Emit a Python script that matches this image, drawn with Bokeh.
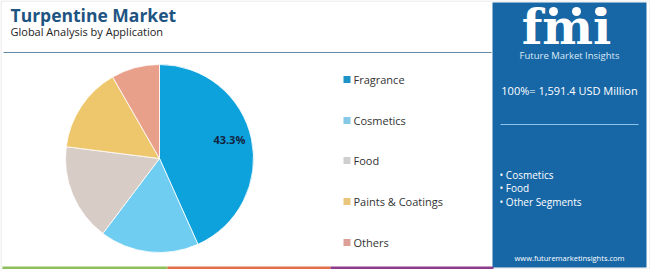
import math
from bokeh.plotting import figure
from bokeh.models import Range1d, ColumnDataSource
from bokeh.core.properties import value
from bokeh.embed import file_html
from bokeh.resources import INLINE

# ---- data ----
categories = ["Fragrance", "Cosmetics", "Food", "Paints & Coatings", "Others"]
shares = [43.3, 17.0, 16.7, 14.7, 8.3]
colors = ["#0EA2DD", "#6ECDF1", "#D8CCC7", "#EEC66C", "#E9A08B"]
legend_colors = ["#1D93C8", "#86C9E6", "#CFCFCF", "#E9C67C", "#DDA096"]
title_text = "Turpentine Market"
subtitle_text = "Global Analysis by Application"
total_text = "100%= 1,591.4 USD Million"
segments = ["Cosmetics", "Food", "Other Segments"]
url_text = "www.futuremarketinsights.com"

W, H = 650, 269
def Y(sy):
    return H - sy

p = figure(width=W, height=H, x_range=Range1d(0, W), y_range=Range1d(0, H),
           output_backend="svg", toolbar_location=None, min_border=0)
p.axis.visible = False
p.grid.visible = False
p.outline_line_color = None
p.background_fill_color = "white"

# outer faint border
p.quad(left=[0.5], right=[W - 0.5], bottom=[0.5], top=[H - 0.5],
       fill_color=None, line_color="#E3E3E3", line_width=1)

# title
p.text(x=[10], y=[Y(14)], text=[title_text], text_font=value("Open Sans"),
       text_font_style="bold", text_font_size="17.5px", text_color="#1E5482",
       text_baseline="middle", text_align="left")
p.text(x=[10], y=[Y(31)], text=[subtitle_text], text_font=value("Open Sans"),
       text_font_size="11px", text_color="#222222",
       text_baseline="middle", text_align="left")
p.line(x=[3, 491], y=[Y(52), Y(52)], line_color="#5F8BA8", line_width=1.2)

# pie
cx, cy, R = 159, Y(158), 94
tot = sum(shares)
cum = 0.0
starts, ends, mids = [], [], []
for s in shares:
    a0 = math.pi / 2 - 2 * math.pi * cum / tot
    cum += s
    a1 = math.pi / 2 - 2 * math.pi * cum / tot
    starts.append(a0); ends.append(a1); mids.append((a0 + a1) / 2)
src = ColumnDataSource(dict(start=starts, end=ends, color=colors))
p.wedge(x=cx, y=cy, radius=R, start_angle="start", end_angle="end",
        direction="clock", fill_color="color", line_color="white",
        line_width=0.8, source=src)
lr = 0.76 * R
p.text(x=[cx + lr * math.cos(mids[0])], y=[cy + lr * math.sin(mids[0]) + 4],
       text=[f"{shares[0]:.1f}%"], text_font=value("Open Sans"),
       text_font_style="bold", text_font_size="11px", text_color="#13243F",
       text_align="center", text_baseline="middle")

# legend
ly = [79, 120, 160, 201, 242]
for i, (c, lc) in enumerate(zip(categories, legend_colors)):
    yy = Y(ly[i])
    p.quad(left=[343], right=[350], bottom=[yy - 3.5], top=[yy + 3.5],
           fill_color=lc, line_color=None)
    p.text(x=[353], y=[yy], text=[c], text_font=value("Open Sans"),
           text_font_size="11px", text_color="#333333",
           text_baseline="middle", text_align="left")

# right panel
p.quad(left=[492], right=[646], bottom=[Y(267)], top=[Y(2)],
       fill_color="#1767A7", line_color=None)
p.text(x=[566], y=[Y(26)], text=["fmi"], text_font=value("DejaVu Serif"),
       text_font_style="bold", text_font_size="48px", text_color="white",
       text_align="center", text_baseline="middle")
for i, xx in enumerate([553, 576, 599]):
    p.scatter(x=[xx], y=[Y(11)], size=9, fill_color="white", line_color=None)
p.text(x=[569], y=[Y(55)], text=["Future Market Insights"], text_font=value("Open Sans"),
       text_font_size="9.5px", text_color="#DCEAF6",
       text_align="center", text_baseline="middle")
p.text(x=[569], y=[Y(90)], text=[total_text], text_font=value("Open Sans"),
       text_font_size="11px", text_color="white",
       text_align="center", text_baseline="middle")
p.line(x=[500, 638], y=[Y(124), Y(124)], line_color="#8CC4EC", line_width=1.2)
for i, sname in enumerate(segments):
    p.text(x=[499], y=[Y(174 + 13.7 * i)], text=["\u2022 " + sname],
           text_font=value("Open Sans"), text_font_size="10px", text_color="white",
           text_align="left", text_baseline="middle")
p.text(x=[569], y=[Y(257)], text=[url_text], text_font=value("Open Sans"),
       text_font_size="7.5px", text_color="white",
       text_align="center", text_baseline="middle")

# bottom colour strip
p.quad(left=[2, 167, 330], right=[167, 330, 493], bottom=[0, 0, 0], top=[3, 3, 3],
       fill_color=["#8DC05C", "#E26F4A", "#8B3C8C"], line_color=None)

open("out.html", "w").write(file_html(p, INLINE))
